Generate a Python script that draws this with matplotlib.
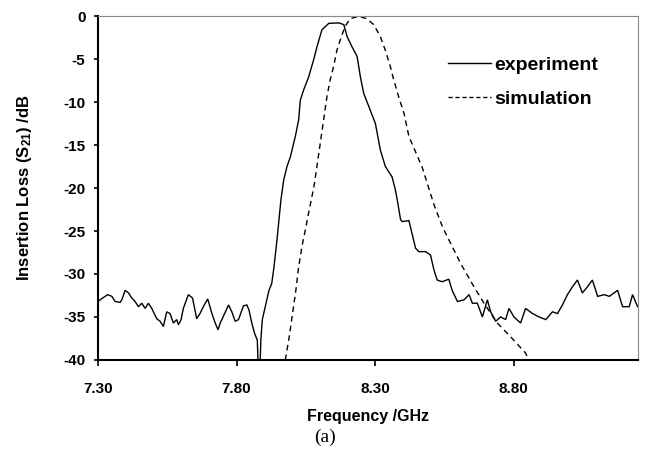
import matplotlib
matplotlib.use("Agg")
import matplotlib.pyplot as plt
from matplotlib.lines import Line2D

# ---- data ----
exp_freq = [7.300, 7.312, 7.335, 7.350, 7.362, 7.380, 7.386, 7.398, 7.410, 7.422,
            7.434, 7.446, 7.458, 7.470, 7.482, 7.494, 7.512, 7.524, 7.536, 7.548,
            7.560, 7.572, 7.584, 7.590, 7.600, 7.608, 7.626, 7.641, 7.650, 7.656,
            7.668, 7.680, 7.696, 7.711, 7.723, 7.733, 7.741, 7.757, 7.771, 7.783,
            7.795, 7.807, 7.825, 7.837, 7.845, 7.855, 7.865, 7.875, 7.878, 7.884,
            7.888, 7.893, 7.909, 7.917, 7.927, 7.935, 7.947, 7.960, 7.970, 7.982,
            7.994, 8.012, 8.024, 8.030, 8.042, 8.060, 8.078, 8.090, 8.108, 8.133,
            8.169, 8.187, 8.199, 8.217, 8.235, 8.247, 8.259, 8.277, 8.301, 8.319,
            8.337, 8.361, 8.373, 8.380, 8.392, 8.398, 8.422, 8.446, 8.458, 8.482,
            8.500, 8.512, 8.524, 8.542, 8.566, 8.578, 8.597, 8.621, 8.639, 8.651,
            8.669, 8.687, 8.705, 8.717, 8.735, 8.753, 8.771, 8.783, 8.801, 8.825,
            8.843, 8.868, 8.892, 8.916, 8.940, 8.958, 8.976, 8.994, 9.012, 9.030,
            9.048, 9.066, 9.084, 9.103, 9.127, 9.145, 9.175, 9.193, 9.217, 9.229,
            9.247]
exp_db = [-33.2, -32.9, -32.4, -32.6, -33.2, -33.3, -33.0, -31.9, -32.2, -32.8,
          -33.2, -33.8, -33.4, -34.0, -33.4, -34.0, -35.2, -35.5, -36.1, -34.4,
          -34.6, -35.7, -35.3, -35.9, -35.3, -34.0, -32.4, -32.8, -34.2, -35.2,
          -34.6, -33.8, -32.9, -34.6, -35.7, -36.5, -35.7, -34.6, -33.6, -34.4,
          -35.5, -35.3, -33.7, -33.6, -34.2, -35.7, -36.9, -37.7, -41.0, -41.0,
          -37.5, -35.3, -33.0, -31.9, -31.1, -29.2, -25.7, -21.4, -19.1, -17.5,
          -16.4, -14.0, -12.1, -9.8, -8.6, -7.1, -5.1, -3.6, -1.6, -0.85,
          -0.8, -1.0, -2.4, -3.6, -4.7, -7.1, -9.0, -10.5, -12.5, -15.6,
          -17.5, -18.7, -20.2, -21.4, -23.7, -23.9, -23.8, -27.0, -27.4, -27.4,
          -27.8, -29.5, -30.7, -30.9, -30.6, -31.9, -33.2, -33.0, -32.4, -33.4,
          -33.4, -35.0, -33.0, -34.4, -35.5, -35.0, -35.3, -34.0, -35.0, -35.7,
          -34.0, -34.6, -35.0, -35.3, -34.4, -34.6, -33.6, -32.4, -31.5, -30.7,
          -32.2, -31.5, -30.7, -32.6, -32.4, -32.6, -31.9, -33.8, -33.8, -32.4,
          -33.8]

sim_freq = [7.976, 7.990, 8.002, 8.014, 8.024, 8.036, 8.048, 8.060, 8.072, 8.081,
            8.090, 8.102, 8.114, 8.126, 8.138, 8.150, 8.162, 8.178, 8.192, 8.210,
            8.240, 8.270, 8.295, 8.319, 8.337, 8.355, 8.367, 8.385, 8.404, 8.422,
            8.470, 8.513, 8.543, 8.561, 8.609, 8.657, 8.693, 8.741, 8.789, 8.843,
            8.855]
sim_db = [-40.0, -37.3, -34.6, -31.9, -29.2, -26.8, -24.9, -22.9, -21.0, -19.5,
          -17.5, -14.8, -12.1, -9.4, -7.4, -5.9, -4.0, -2.4, -1.2, -0.3,
          -0.05, -0.3, -1.0, -2.4, -4.0, -5.9, -7.4, -9.4, -11.3, -14.0,
          -17.6, -22.0, -24.5, -25.7, -28.8, -31.5, -33.4, -35.7, -37.3, -39.2,
          -40.0]

x_ticks = [7.30, 7.80, 8.30, 8.80]
x_ticklabels = ["7.30", "7.80", "8.30", "8.80"]
y_ticks = [0, -5, -10, -15, -20, -25, -30, -35, -40]
y_ticklabels = ["0", "-5", "-10", "-15", "-20", "-25", "-30", "-35", "-40"]
series_names = ["experiment", "simulation"]

# ---- style ----
plt.rcParams['font.family'] = ['Liberation Sans', 'DejaVu Sans']
plt.rcParams['font.weight'] = 'bold'
plt.rcParams['axes.unicode_minus'] = False
plt.rcParams['mathtext.fontset'] = 'custom'
plt.rcParams['mathtext.rm'] = 'Liberation Sans:bold'
plt.rcParams['mathtext.bf'] = 'Liberation Sans:bold'
plt.rcParams['mathtext.default'] = 'bf'

fig = plt.figure(figsize=(6.46, 4.58), dpi=100)
ax = fig.add_axes([0.1517, 0.214, 0.8365, 0.751])

ax.plot(exp_freq, exp_db, color='black', lw=1.0, solid_joinstyle='miter')
ax.plot(sim_freq, sim_db, color='black', lw=1.0, dashes=(4, 3))

ax.set_xlim(7.30, 9.25)
ax.set_ylim(-40, 0)
ax.set_xticks(x_ticks)
ax.set_xticklabels(x_ticklabels, fontsize=11, fontweight='bold')
ax.set_yticks(y_ticks)
ax.set_yticklabels(y_ticklabels, fontsize=11, fontweight='bold')
ax.tick_params(axis='x', direction='out', length=4, width=1.2, pad=12)
ax.tick_params(axis='y', direction='out', length=3, width=1.2, pad=6)

for s in ['left', 'bottom']:
    ax.spines[s].set_color('black')
    ax.spines[s].set_linewidth(1.5)
for s in ['top', 'right']:
    ax.spines[s].set_color('#8a8a8a')
    ax.spines[s].set_linewidth(0.8)
    ax.spines[s].set_linestyle((0, (2, 1)))

ax.set_xlabel("Frequency /GHz", fontsize=11.5, fontweight='bold', labelpad=9)
ax.set_ylabel(r"Insertion Loss (S$_{21}$) /dB", fontsize=12, fontweight='bold', labelpad=21)

handles = [Line2D([], [], color='black', lw=1.0),
           Line2D([], [], color='black', lw=1.0, dashes=(3, 2))]
leg = ax.legend(handles, series_names, loc='upper left', bbox_to_anchor=(0.6475, 0.883),
                frameon=False, handlelength=2.2, handletextpad=0.2, borderpad=0,
                borderaxespad=0, labelspacing=0.85, prop={'weight': 'bold', 'size': 14})

fig.text(0.503, 0.046, "(a)", family=['Liberation Serif'], fontweight='normal',
         fontsize=14, ha='center', va='center')

fig.savefig("out.png", dpi=100)
